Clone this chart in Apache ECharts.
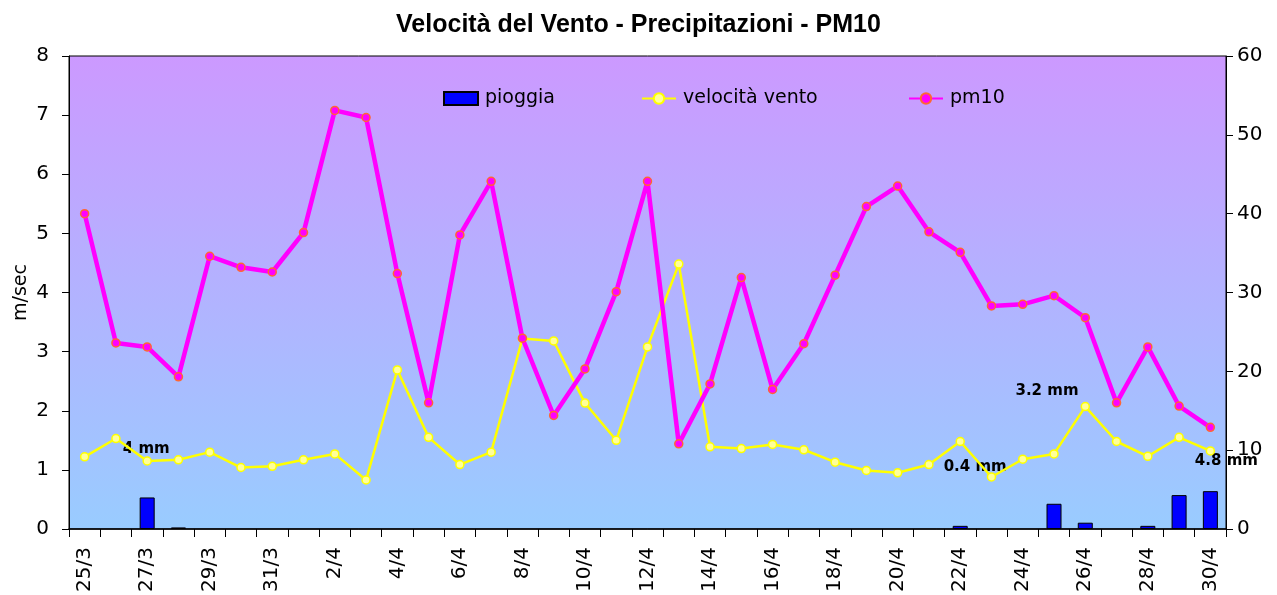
<!DOCTYPE html>
<html>
<head>
<meta charset="utf-8">
<script src="https://cdn.jsdelivr.net/npm/echarts@6/dist/echarts.min.js"></script>
<style>
  html, body { margin: 0; padding: 0; background: #fff; }
  #chart { width: 1277px; height: 595px; }
</style>
</head>
<body>
<div id="chart"></div>
<script>
// Giorni dal 25/3 al 30/4
const giorni = [
  '25/3','26/3','27/3','28/3','29/3','30/3','31/3',
  '1/4','2/4','3/4','4/4','5/4','6/4','7/4','8/4','9/4','10/4',
  '11/4','12/4','13/4','14/4','15/4','16/4','17/4','18/4','19/4','20/4',
  '21/4','22/4','23/4','24/4','25/4','26/4','27/4','28/4','29/4','30/4'
];

// Pioggia giornaliera (mm)
const pioggia = [
  0, 0, 4, 0.2, 0, 0, 0,
  0, 0, 0, 0, 0, 0, 0, 0, 0, 0,
  0, 0, 0, 0, 0, 0, 0, 0, 0, 0,
  0, 0.4, 0, 0, 3.2, 0.8, 0, 0.4, 4.3, 4.8
];

// Velocità media del vento (m/sec)
const velocitaVento = [
  1.22, 1.53, 1.15, 1.17, 1.30, 1.04, 1.06,
  1.17, 1.27, 0.83, 2.69, 1.55, 1.09, 1.30, 3.22, 3.18, 2.13,
  1.50, 3.08, 4.48, 1.39, 1.36, 1.43, 1.34, 1.13, 0.99, 0.95,
  1.09, 1.48, 0.88, 1.18, 1.27, 2.07, 1.48, 1.23, 1.55, 1.32
];

// Concentrazione PM10 (µg/m³)
const pm10 = [
  40.0, 23.6, 23.1, 19.3, 34.6, 33.2, 32.6,
  37.6, 53.1, 52.2, 32.4, 16.0, 37.3, 44.1, 24.2, 14.4, 20.3,
  30.1, 44.1, 10.8, 18.4, 31.9, 17.7, 23.5, 32.2, 40.9, 43.5,
  37.7, 35.1, 28.3, 28.5, 29.6, 26.8, 16.0, 23.1, 15.6, 12.9
];

// Giorni di pioggia con etichetta in mm
const giorniEtichettati = ['27/3', '22/4', '25/4', '30/4'];

// Spostamento delle etichette rispetto alla cima della barra
const spostamentoEtichette = {
  '27/3': [-1, -41],
  '22/4': [15, -51],
  '25/4': [-7, -105],
  '30/4': [16, -23]
};

const FONT = 'DejaVu Sans';

// Nessuna barra nei giorni senza pioggia
const datiPioggia = pioggia.map((v, i) => {
  const g = giorni[i];
  if (v === 0) return '-';
  if (giorniEtichettati.indexOf(g) >= 0) {
    return {
      value: v,
      label: {
        show: true,
        position: 'top',
        distance: 0,
        offset: spostamentoEtichette[g],
        formatter: '{c} mm',
        fontFamily: FONT,
        fontWeight: 'bold',
        fontSize: 15,
        color: '#000'
      }
    };
  }
  return v;
});

const chart = echarts.init(document.getElementById('chart'), null, { renderer: 'canvas' });

const legendaComune = {
  top: 84,
  padding: 5,
  itemWidth: 34,
  itemHeight: 13,
  itemGap: 0,
  textStyle: { fontFamily: FONT, fontSize: 19, color: '#000', padding: [0, 0, 0, 2] }
};

chart.setOption({
  animation: false,
  title: {
    text: 'Velocità del Vento - Precipitazioni - PM10',
    left: 'center',
    top: 8,
    textStyle: {
      fontFamily: 'Liberation Sans',
      fontWeight: 'bold',
      fontSize: 25,
      color: '#000'
    }
  },
  legend: [
    Object.assign({}, legendaComune, { left: 438, data: [{ name: 'pioggia', icon: 'rect' }] }),
    Object.assign({}, legendaComune, { left: 636, data: ['velocità vento'] }),
    Object.assign({}, legendaComune, { left: 903, data: ['pm10'] })
  ],
  grid: {
    left: 69,
    right: 51,
    top: 56,
    bottom: 66,
    outerBoundsMode: 'none',
    containLabel: false,
    show: true,
    borderColor: '#000',
    borderWidth: 1,
    backgroundColor: {
      type: 'linear', x: 0, y: 0, x2: 0, y2: 1,
      colorStops: [
        { offset: 0, color: '#CC99FF' },
        { offset: 1, color: '#99CCFF' }
      ]
    }
  },
  xAxis: {
    type: 'category',
    data: giorni,
    boundaryGap: true,
    axisLine: { lineStyle: { color: '#000', width: 1.5 } },
    axisTick: { show: true, interval: 0, length: 8, lineStyle: { color: '#000', width: 1 } },
    axisLabel: {
      interval: 1,
      rotate: 90,
      margin: 18,
      fontFamily: FONT,
      fontSize: 20,
      color: '#000'
    },
    splitLine: { show: false }
  },
  yAxis: [
    {
      type: 'value',
      min: 0,
      max: 8,
      interval: 1,
      name: 'm/sec',
      nameLocation: 'middle',
      nameGap: 38,
      nameMoveOverlap: false,
      nameTextStyle: { fontFamily: FONT, fontSize: 19, color: '#000' },
      axisLine: { show: true, lineStyle: { color: '#000', width: 1 } },
      axisTick: { show: true, inside: false, length: 7, lineStyle: { color: '#000' } },
      axisLabel: { fontFamily: FONT, fontSize: 20, color: '#000', margin: 20 },
      splitLine: { show: false }
    },
    {
      type: 'value',
      min: 0,
      max: 60,
      interval: 10,
      position: 'right',
      axisLine: { show: true, lineStyle: { color: '#000', width: 1 } },
      axisTick: { show: true, inside: false, length: 7, lineStyle: { color: '#000' } },
      axisLabel: { fontFamily: FONT, fontSize: 20, color: '#000', margin: 11 },
      splitLine: { show: false }
    }
  ],
  series: [
    {
      name: 'pioggia',
      type: 'bar',
      yAxisIndex: 1,
      data: datiPioggia,
      barWidth: '48%',
      itemStyle: { color: '#0000FF', borderColor: '#000', borderWidth: 1 },
      z: 2
    },
    {
      name: 'velocità vento',
      type: 'line',
      yAxisIndex: 0,
      data: velocitaVento,
      symbol: 'circle',
      symbolSize: 8,
      lineStyle: { color: '#FFFF00', width: 2.5 },
      itemStyle: { color: '#FFFF99', borderColor: '#FFFF00', borderWidth: 1.5 },
      z: 3
    },
    {
      name: 'pm10',
      type: 'line',
      yAxisIndex: 1,
      data: pm10,
      symbol: 'circle',
      symbolSize: 8,
      lineStyle: { color: '#FF00FF', width: 4.5 },
      itemStyle: { color: '#FF00FF', borderColor: '#FF6633', borderWidth: 1.5 },
      z: 4
    }
  ]
});
</script>
</body>
</html>
